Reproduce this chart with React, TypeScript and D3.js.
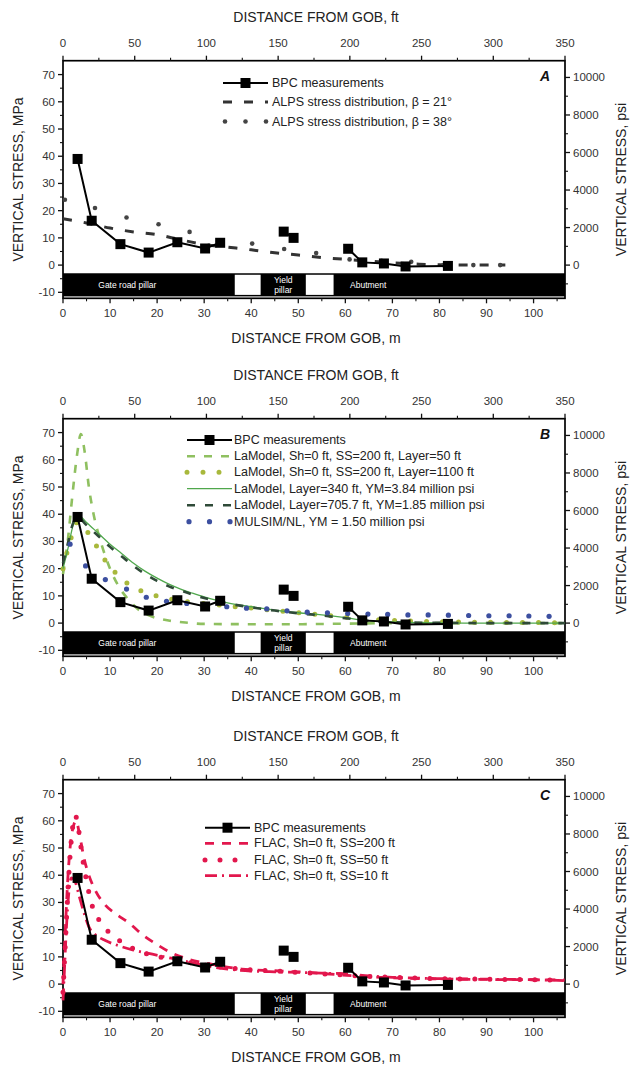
import React from "react";
import * as d3 from "d3";

// ---------- data ----------
type P = [number, number];

const M_MAJOR = [0, 10, 20, 30, 40, 50, 60, 70, 80, 90, 100];
const M_MINOR = [5, 15, 25, 35, 45, 55, 65, 75, 85, 95, 105];
const FT_MAJOR = [0, 50, 100, 150, 200, 250, 300, 350];
const FT_MINOR = [25, 75, 125, 175, 225, 275, 325];
const MPA_MAJOR = [-10, 0, 10, 20, 30, 40, 50, 60, 70];
const MPA_MINOR = [-5, 5, 15, 25, 35, 45, 55, 65];
const PSI_MAJOR = [0, 2000, 4000, 6000, 8000, 10000];
const PSI_MINOR = [-1000, 1000, 3000, 5000, 7000, 9000];

// BPC measurements (m, MPa)
const bpc: P[] = [
  [3.1, 39], [6.1, 16.3], [12.2, 7.7], [18.2, 4.6], [24.3, 8.4], [30.2, 6.1], [33.4, 8.2],
  [46.9, 12.3], [49, 10],
  [60.6, 6], [63.6, 1], [68.2, 0.6], [72.8, -0.5], [81.8, -0.3],
];
const bpcGroups: number[][] = [[0, 7], [7, 9], [9, 14]];

// Panel A
const alps21: P[] = [
  [0, 17], [5, 15.5], [10, 13.6], [15, 12.2], [20, 11.2], [25, 9.3], [30, 7.6], [35, 6.6],
  [40, 5.6], [45, 4.5], [50, 3.7], [55, 2.8], [60, 2.1], [65, 1.5], [70, 0.8], [75, 0.4],
  [80, 0.1], [85, 0], [94, 0],
];
const alps38: P[] = [
  [0.4, 24], [6.8, 21], [13.5, 17.5], [20.3, 15], [26.9, 12.2], [33, 8.8], [40.2, 7.9],
  [47, 5.9], [53.8, 4.4], [60.9, 2.1], [67.7, 1.6], [74, 1.2], [80.8, 0], [87.2, 0], [92.9, 0],
];

// Panel B
const lam50: P[] = [
  [0, 18], [1, 30], [2, 47], [3, 62], [3.8, 69.5], [4.6, 63], [5.5, 50], [6.5, 40], [8, 30],
  [10, 20], [12, 13], [14, 8.5], [16, 5], [18, 3], [20, 1.8], [23, 0.8], [26, 0.2], [30, -0.3],
  [40, -0.4], [50, -0.4], [60, -0.2], [70, 0], [80, 0], [90, 0], [100, 0], [106.6, 0],
];
const lam1100: P[] = [
  [0, 20], [1.5, 30], [3, 37], [4.5, 35], [6.5, 30], [9, 23], [12, 17], [15, 13.2], [18, 11],
  [21, 9.5], [25, 8.2], [30, 7.2], [35, 6.3], [40, 5.5], [45, 4.6], [50, 3.8], [55, 3],
  [60, 2.2], [65, 1.5], [70, 1], [75, 0.7], [80, 0.5], [90, 0.3], [100, 0.2], [106.6, 0.1],
];
const lam340: P[] = [
  [0, 20], [1, 27], [2, 35], [3, 40], [5, 37], [7.5, 33], [10, 29], [12.5, 25.5], [15, 22],
  [17.5, 19], [20, 16.5], [22.5, 14.3], [25, 12.5], [27.5, 11], [30, 9.6], [32.5, 8.4],
  [35, 7.4], [40, 6], [45, 4.8], [50, 3.8], [55, 3], [60, 2], [65, 0.8], [70, 0.4], [75, 0.2],
  [80, 0.1], [90, 0], [100, 0], [106.6, 0],
];
const lam705: P[] = [
  [0, 22], [1, 29], [2, 36], [3, 39], [5, 36], [7.5, 32], [10, 28], [12.5, 24.5], [15, 21],
  [17.5, 18], [20, 15.5], [22.5, 13.5], [25, 12], [27.5, 10.5], [30, 9.2], [35, 7.2],
  [40, 5.8], [45, 4.6], [50, 3.6], [55, 2.8], [60, 1.8], [65, 0.8], [70, 0.3], [80, 0.1],
  [90, 0], [106.6, 0],
];
const mulsim: P[] = [
  [1.5, 29], [4.8, 21], [9, 16], [13.5, 12.5], [17.7, 9.5], [22, 8], [26.3, 7.2], [30.6, 6.5],
  [34.8, 6], [39, 5.5], [43.3, 5.2], [47.6, 4.5], [51.9, 4], [56.2, 3.8], [60.5, 3.5],
  [64.8, 3.3], [69, 3.2], [73.3, 3], [77.6, 3], [81.9, 2.9], [86.2, 2.8], [90.5, 2.7],
  [94.8, 2.7], [99, 2.6], [103.3, 2.5],
];

// Panel C
const flac200: P[] = [
  [0, 0], [0.5, 20], [1, 38], [1.5, 50], [2.2, 58], [2.8, 60], [3.5, 55], [4.5, 46], [5.5, 40],
  [7, 34], [9, 29], [11.5, 25.5], [14, 22.5], [17, 18], [20, 14.5], [23, 11.5], [26, 9.5],
  [30, 7.8], [34, 6.5], [38, 5.5], [45, 4.9], [52, 4.3], [58, 3.5], [64, 2.8], [70, 2.3],
  [80, 1.9], [90, 1.7], [100, 1.6], [106.6, 1.5],
];
const flac50: P[] = [
  [0, -3], [0.5, 15], [1, 33], [1.5, 47], [2, 57], [2.6, 62], [3.2, 58], [4, 48], [5, 38],
  [6, 30], [7.5, 24], [9.5, 19.5], [12, 16], [15, 13], [18, 11], [22, 9.5], [26, 8.2],
  [30, 7], [35, 6], [40, 5.2], [45, 4.8], [50, 4.3], [55, 3.8], [60, 3.3], [65, 2.8],
  [70, 2.5], [80, 2], [90, 1.8], [100, 1.6], [106.6, 1.5],
];
const flac10: P[] = [
  [0, -6], [0.3, 5], [0.7, 20], [1.2, 33], [1.8, 39], [2.5, 38], [3.5, 32], [4.5, 26],
  [5.5, 21], [7, 18], [9, 16], [12, 14], [15, 12.5], [19, 11], [23, 9.5], [27, 8], [31, 6.5],
  [35, 5.5], [40, 4.8], [45, 4.5], [50, 4.3], [55, 4], [60, 3.8], [65, 3], [70, 2.5],
  [80, 2], [90, 1.8], [100, 1.6], [106.6, 1.3],
];

const legendA = [
  "BPC measurements",
  "ALPS stress distribution, \u03b2 = 21\u00b0",
  "ALPS stress distribution, \u03b2 = 38\u00b0",
];
const legendB = [
  "BPC measurements",
  "LaModel, Sh=0 ft, SS=200 ft, Layer=50 ft",
  "LaModel, Sh=0 ft, SS=200 ft, Layer=1100 ft",
  "LaModel, Layer=340 ft, YM=3.84 million psi",
  "LaModel, Layer=705.7 ft, YM=1.85 million psi",
  "MULSIM/NL, YM = 1.50 million psi",
];
const legendC = [
  "BPC measurements",
  "FLAC, Sh=0 ft, SS=200 ft",
  "FLAC, Sh=0 ft, SS=50 ft",
  "FLAC, Sh=0 ft, SS=10 ft",
];

// strip (m, MPa)
const STRIP_Y: [number, number] = [-3, -11.5];
const WHITE_BOXES: [number, number][] = [[36.5, 42], [51.6, 57.5]];

// ---------- geometry ----------
const FONT = "'Liberation Sans', Arial, Helvetica, sans-serif";
const X_MAX = 350 / 3.28084;
const L = 63, R = 565, TOP = 60.7, BOT = 298.3;
const OFFSETS = [0, 358, 719];
const MPA_TO_PSI = 145.038;

const xS = d3.scaleLinear().domain([0, X_MAX]).range([L, R]);
const ftS = d3.scaleLinear().domain([0, 350]).range([L, R]);
const yScale = (off: number) =>
  d3.scaleLinear().domain([-12.2, 75.1]).range([BOT + off, TOP + off]);
const psiScale = (off: number) =>
  d3.scaleLinear().domain([-12.2 * MPA_TO_PSI, 75.1 * MPA_TO_PSI]).range([BOT + off, TOP + off]);

function Axes({ off, letter }: { off: number; letter: string }) {
  const y = yScale(off);
  const py = psiScale(off);
  const tickCol = "#111";
  const lab = "#333";
  const sy0 = y(STRIP_Y[0]);
  const sy1 = y(STRIP_Y[1]);
  const midY = (sy0 + sy1) / 2;
  return (
    <g>
      {/* strip */}
      <rect x={xS(0)} y={sy0} width={xS(X_MAX) - xS(0)} height={sy1 - sy0} fill="#000" />
      {WHITE_BOXES.map(([a, b], i) => (
        <rect key={i} x={xS(a)} y={sy0 + 1.5} width={xS(b) - xS(a)} height={sy1 - sy0 - 3} fill="#fff" />
      ))}
      <text x={xS(7.5)} y={midY} fill="#fff" fontSize={8.5} fontFamily={FONT} dominantBaseline="central">
        Gate road pillar
      </text>
      <text x={xS(46.8)} y={midY - 5} fill="#fff" fontSize={8.5} fontFamily={FONT} textAnchor="middle" dominantBaseline="central">
        Yield
      </text>
      <text x={xS(46.8)} y={midY + 5} fill="#fff" fontSize={8.5} fontFamily={FONT} textAnchor="middle" dominantBaseline="central">
        pillar
      </text>
      <text x={xS(61)} y={midY} fill="#fff" fontSize={8.5} fontFamily={FONT} dominantBaseline="central">
        Abutment
      </text>

      {/* frame */}
      <rect x={L} y={TOP + off} width={R - L} height={BOT - TOP} fill="none" stroke="#000" strokeWidth={1.7} />

      {/* bottom axis */}
      {M_MAJOR.map((v) => (
        <g key={"bm" + v}>
          <line x1={xS(v)} x2={xS(v)} y1={BOT + off} y2={BOT + off + 5} stroke={tickCol} strokeWidth={1.3} />
          <text x={xS(v)} y={BOT + off + 19} textAnchor="middle" fontSize={11.5} fontFamily={FONT} fill={lab}>
            {v}
          </text>
        </g>
      ))}
      {M_MINOR.map((v) => (
        <line key={"bn" + v} x1={xS(v)} x2={xS(v)} y1={BOT + off} y2={BOT + off + 3} stroke={tickCol} strokeWidth={1.1} />
      ))}
      {/* top axis */}
      {FT_MAJOR.map((v) => (
        <g key={"tm" + v}>
          <line x1={ftS(v)} x2={ftS(v)} y1={TOP + off} y2={TOP + off - 5} stroke={tickCol} strokeWidth={1.3} />
          <text x={ftS(v)} y={TOP + off - 14} textAnchor="middle" fontSize={11.5} fontFamily={FONT} fill={lab}>
            {v}
          </text>
        </g>
      ))}
      {FT_MINOR.map((v) => (
        <line key={"tn" + v} x1={ftS(v)} x2={ftS(v)} y1={TOP + off} y2={TOP + off - 3} stroke={tickCol} strokeWidth={1.1} />
      ))}
      {/* left axis */}
      {MPA_MAJOR.map((v) => (
        <g key={"lm" + v}>
          <line x1={L} x2={L - 5} y1={y(v)} y2={y(v)} stroke={tickCol} strokeWidth={1.3} />
          <text x={L - 8} y={y(v)} textAnchor="end" dominantBaseline="central" fontSize={11.5} fontFamily={FONT} fill={lab}>
            {v}
          </text>
        </g>
      ))}
      {MPA_MINOR.map((v) => (
        <line key={"ln" + v} x1={L} x2={L - 3} y1={y(v)} y2={y(v)} stroke={tickCol} strokeWidth={1.1} />
      ))}
      {/* right axis */}
      {PSI_MAJOR.map((v) => (
        <g key={"rm" + v}>
          <line x1={R} x2={R + 5} y1={py(v)} y2={py(v)} stroke={tickCol} strokeWidth={1.3} />
          <text x={R + 8} y={py(v)} dominantBaseline="central" fontSize={11.5} fontFamily={FONT} fill={lab}>
            {v}
          </text>
        </g>
      ))}
      {PSI_MINOR.map((v) => (
        <line key={"rn" + v} x1={R} x2={R + 3} y1={py(v)} y2={py(v)} stroke={tickCol} strokeWidth={1.1} />
      ))}

      {/* titles */}
      <text x={(L + R) / 2 + 2} y={off + 17} textAnchor="middle" dominantBaseline="central" fontSize={14} fontFamily={FONT} fill="#222">
        DISTANCE FROM GOB, ft
      </text>
      <text x={(L + R) / 2 + 2} y={off + 338} textAnchor="middle" dominantBaseline="central" fontSize={14} fontFamily={FONT} fill="#222">
        DISTANCE FROM GOB, m
      </text>
      <text transform={`translate(18,${(TOP + BOT) / 2 + off}) rotate(-90)`} textAnchor="middle" dominantBaseline="central" fontSize={14} fontFamily={FONT} fill="#222">
        VERTICAL STRESS, MPa
      </text>
      <text transform={`translate(621,${(TOP + BOT) / 2 + off}) rotate(-90)`} textAnchor="middle" dominantBaseline="central" fontSize={14} fontFamily={FONT} fill="#222">
        VERTICAL STRESS, psi
      </text>
      <text x={545} y={off + 76} textAnchor="middle" dominantBaseline="central" fontSize={14} fontWeight="bold" fontStyle="italic" fontFamily={FONT} fill="#111">
        {letter}
      </text>
    </g>
  );
}

function Bpc({ off }: { off: number }) {
  const y = yScale(off);
  const line = d3.line<P>().x((d) => xS(d[0])).y((d) => y(d[1]));
  return (
    <g>
      {bpcGroups.map(([a, b], i) => (
        <path key={i} d={line(bpc.slice(a, b)) || ""} fill="none" stroke="#000" strokeWidth={2} />
      ))}
      {bpc.map((d, i) => (
        <rect key={i} x={xS(d[0]) - 5} y={y(d[1]) - 5} width={10} height={10} fill="#000" />
      ))}
    </g>
  );
}

type Style = {
  stroke: string;
  width: number;
  dash?: string;
  cap?: "round" | "butt";
  dots?: boolean;
  dotR?: number;
};

function Curve({ data, off, st }: { data: P[]; off: number; st: Style }) {
  const y = yScale(off);
  if (st.dots) {
    return (
      <g>
        {data.map((d, i) => (
          <circle key={i} cx={xS(d[0])} cy={y(d[1])} r={st.dotR || 2.5} fill={st.stroke} />
        ))}
      </g>
    );
  }
  const line = d3.line<P>().x((d) => xS(d[0])).y((d) => y(d[1])).curve(d3.curveMonotoneX);
  return (
    <path d={line(data) || ""} fill="none" stroke={st.stroke} strokeWidth={st.width}
      strokeDasharray={st.dash} strokeLinecap={st.cap || "butt"} />
  );
}

function Legend({ off, x0, x1, textX, rows, labels, styles, fontSize }:
  { off: number; x0: number; x1: number; textX: number; rows: number[]; labels: string[]; styles: (Style | null)[]; fontSize: number }) {
  return (
    <g>
      {labels.map((t, i) => {
        const yy = rows[i] + off;
        const st = styles[i];
        let sym: React.ReactNode;
        if (!st) {
          sym = (
            <g>
              <line x1={x0} x2={x1} y1={yy} y2={yy} stroke="#000" strokeWidth={2} />
              <rect x={(x0 + x1) / 2 - 5} y={yy - 5} width={10} height={10} fill="#000" />
            </g>
          );
        } else if (st.dots) {
          const r = st.dotR || 2.5;
          sym = (
            <g>
              {[x0 + 2, (x0 + x1) / 2, x1 - 2].map((cx, k) => (
                <circle key={k} cx={cx} cy={yy} r={r} fill={st.stroke} />
              ))}
            </g>
          );
        } else {
          sym = (
            <line x1={x0} x2={x1} y1={yy} y2={yy} stroke={st.stroke} strokeWidth={st.width}
              strokeDasharray={st.dash} strokeLinecap={st.cap || "butt"} />
          );
        }
        return (
          <g key={i}>
            {sym}
            <text x={textX} y={yy} dominantBaseline="central" fontSize={fontSize} fontFamily={FONT} fill="#222">
              {t}
            </text>
          </g>
        );
      })}
    </g>
  );
}

const stA21: Style = { stroke: "#333", width: 3, dash: "9 12" };
const stA38: Style = { stroke: "#444", width: 0, dots: true, dotR: 2.3 };
const stB50: Style = { stroke: "#8fc060", width: 2.6, dash: "8 9" };
const stB1100: Style = { stroke: "#a8b83c", width: 5, dash: "0 16", cap: "round" };
const stB340: Style = { stroke: "#4fa74c", width: 1.3 };
const stB705: Style = { stroke: "#2f4a38", width: 2.6, dash: "8 10" };
const stBmul: Style = { stroke: "#3c4fa0", width: 0, dots: true, dotR: 2.6 };
const RED = "#e2174d";
const stC200: Style = { stroke: RED, width: 2.8, dash: "9 8" };
const stC50: Style = { stroke: RED, width: 5, dash: "0 15", cap: "round" };
const stC10: Style = { stroke: RED, width: 2.8, dash: "12 5 2 5" };

export default function App() {
  const [a, b, c] = OFFSETS;
  return (
    <svg width={632} height={1066} viewBox="0 0 632 1066"
      style={{ position: "absolute", left: 0, top: 0, background: "#fff" }}>
      <rect x={0} y={0} width={632} height={1066} fill="#fff" />

      {/* Panel A */}
      <Axes off={a} letter="A" />
      <Curve data={alps21} off={a} st={stA21} />
      <Curve data={alps38} off={a} st={stA38} />
      <Bpc off={a} />
      <Legend off={a} x0={223} x1={268} textX={272} rows={[83, 102, 121.5]} labels={legendA}
        styles={[null, stA21, stA38]} fontSize={12.5} />

      {/* Panel B */}
      <Axes off={b} letter="B" />
      <Curve data={lam50} off={b} st={stB50} />
      <Curve data={lam1100} off={b} st={stB1100} />
      <Curve data={lam340} off={b} st={stB340} />
      <Curve data={lam705} off={b} st={stB705} />
      <Curve data={mulsim} off={b} st={stBmul} />
      <Bpc off={b} />
      <Legend off={b} x0={187} x1={232} textX={234} rows={[82, 98.3, 114.3, 130.7, 147.3, 163.7]}
        labels={legendB} styles={[null, stB50, stB1100, stB340, stB705, stBmul]} fontSize={12.5} />

      {/* Panel C */}
      <Axes off={c} letter="C" />
      <Curve data={flac200} off={c} st={stC200} />
      <Curve data={flac50} off={c} st={stC50} />
      <Curve data={flac10} off={c} st={stC10} />
      <Bpc off={c} />
      <Legend off={c} x0={205} x1={250} textX={254} rows={[108.7, 124.3, 141, 156.7]}
        labels={legendC} styles={[null, stC200, stC50, stC10]} fontSize={12.5} />
    </svg>
  );
}
